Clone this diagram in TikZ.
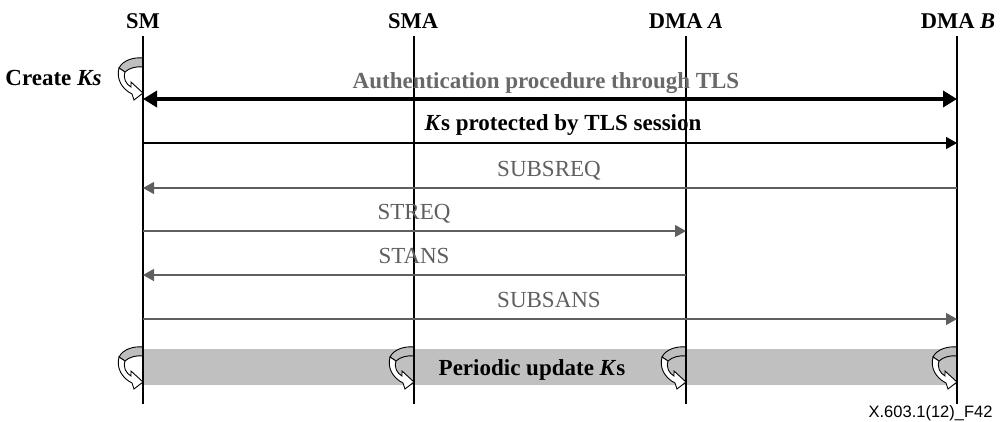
\documentclass[tikz,border=0pt]{standalone}
\usepackage{fontspec}
\setmainfont{Liberation Serif}
\newfontfamily\arialfont{Liberation Sans}
\usetikzlibrary{arrows.meta}
\definecolor{msggray}{RGB}{95,95,95}
\definecolor{labgray}{RGB}{105,105,105}
\definecolor{bandgray}{RGB}{192,192,192}
\definecolor{curlgray}{RGB}{190,190,190}
\tikzset{
  lifeline/.style={draw=black,line width=1.2pt},
  header/.style={font=\fontsize{22.5}{26}\selectfont\bfseries,anchor=base},
  boldlab/.style={font=\fontsize{23}{27}\selectfont\bfseries,anchor=base},
  msglab/.style={font=\fontsize{23}{27}\selectfont,text=msggray,anchor=base},
  thickmsg/.style={line width=4.5pt,{Triangle[length=14pt,width=16pt]}-{Triangle[length=14pt,width=16pt]}},
  blackmsg/.style={line width=1.4pt,-{Triangle[length=11pt,width=12pt]}},
  graymsg/.style={draw=msggray,line width=1.3pt,-{Triangle[length=11pt,width=12pt]}},
  pics/curl/.style={code={
    \filldraw[fill=curlgray,draw=black,line width=0.9pt] (0,0) .. controls (-9,-1) and (-20,2) .. (-24,10) -- (-18,14) .. controls (-14,10) and (-6,8) .. (0,9) -- cycle;
    \filldraw[fill=white,draw=black,line width=0.9pt] (-24,10) .. controls (-27,21) and (-21,31) .. (-11,36) -- (-9,42) -- (0,35) -- (-12,24) -- (-12,29) .. controls (-17,26) and (-20,21) .. (-18,14) -- cycle;
  }}
}
\begin{document}
\begin{tikzpicture}[x=1pt,y=-1pt]
\useasboundingbox (0,0) rectangle (1000,421);
% band
\fill[bandgray] (143,349) rectangle (957,385);
% curls
\pic at (143,58) {curl};
\pic at (143,347) {curl};
\pic at (414,347) {curl};
\pic at (686,347) {curl};
\pic at (957,347) {curl};
% lifelines
\coordinate (smT) at (143,36);  \coordinate (smB) at (143,404);
\coordinate (smaT) at (414,36); \coordinate (smaB) at (414,404);
\coordinate (daT) at (686,36);  \coordinate (daB) at (686,404);
\coordinate (dbT) at (957,36);  \coordinate (dbB) at (957,404);
\draw[lifeline] (smT) -- (smB);
\draw[lifeline] (smaT) -- (smaB);
\draw[lifeline] (daT) -- (daB);
\draw[lifeline] (dbT) -- (dbB);
% headers
\node[header] (hsm) at (143,28) {SM};
\node[header] (hsma) at (413,28) {SMA};
\node[header] (hda) at (686,28) {DMA \textit{A}};
\node[header] (hdb) at (958,28) {DMA \textit{B}};
% message endpoints
\coordinate (sm1) at (143,99);  \coordinate (db1) at (957,99);
\coordinate (sm2) at (143,143); \coordinate (db2) at (957,143);
\coordinate (sm3) at (143,188); \coordinate (db3) at (957,188);
\coordinate (sm4) at (143,231); \coordinate (da4) at (686,231);
\coordinate (sm5) at (143,275); \coordinate (da5) at (686,275);
\coordinate (sm6) at (143,319); \coordinate (db6) at (957,319);
% messages
\draw[thickmsg] (sm1) -- (db1);
\draw[blackmsg] (sm2) -- (db2);
\draw[graymsg] (db3) -- (sm3);
\draw[graymsg] (sm4) -- (da4);
\draw[graymsg] (da5) -- (sm5);
\draw[graymsg] (sm6) -- (db6);
% labels
\node[boldlab,text=labgray] (lauth) at (546,88) {Authentication procedure through TLS};
\node[boldlab] (lks) at (563,130) {\textit{K}s protected by TLS session};
\node[msglab] (lsubsreq) at (549,176) {SUBSREQ};
\node[msglab] (lstreq) at (414,219) {STREQ};
\node[msglab] (lstans) at (414,263) {STANS};
\node[msglab] (lsubsans) at (549,307) {SUBSANS};
\node[boldlab] (lper) at (532,375) {Periodic update \textit{K}s};
\node[boldlab,anchor=base east] (lcreate) at (105,85) {Create \textit{Ks}};
\node[font=\fontsize{16.5}{19}\selectfont\arialfont,anchor=base east] (fig) at (996,417) {X.603.1(12)\_F42};
\end{tikzpicture}
\end{document}
